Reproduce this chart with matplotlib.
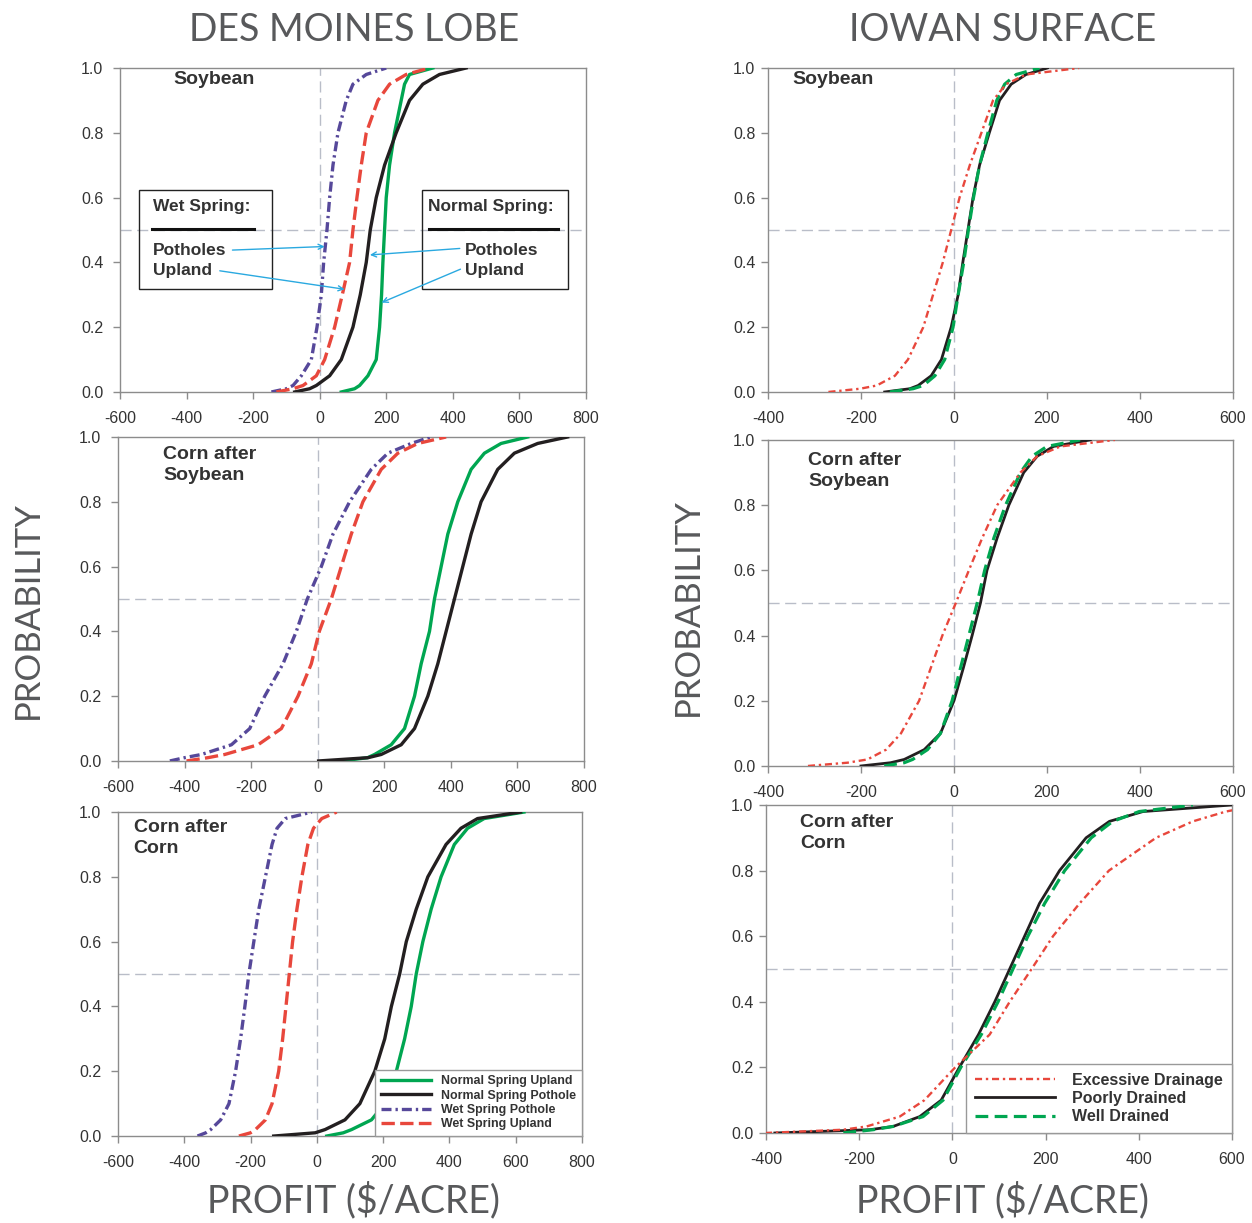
import numpy as np
import matplotlib.pyplot as plt
from matplotlib.patches import Rectangle

# cumulative probability levels shared by every curve
prob = [0, 0.01, 0.02, 0.05, 0.1, 0.2, 0.3, 0.4, 0.5, 0.6, 0.7, 0.8, 0.9, 0.95, 0.98, 1.0]

# Des Moines Lobe, profit ($/acre) at each probability level
dml_soy_normal_upland = [65, 105, 120, 145, 170, 180, 186, 190, 195, 200, 210, 225, 245, 255, 270, 340]
dml_soy_normal_pothole = [-75, -30, -10, 30, 65, 100, 122, 140, 152, 170, 195, 230, 270, 310, 360, 440]
dml_soy_wet_pothole = [-145, -100, -80, -55, -25, -8, 5, 12, 22, 30, 40, 55, 80, 100, 140, 200]
dml_soy_wet_upland = [-130, -80, -50, -10, 15, 45, 68, 90, 100, 112, 125, 140, 175, 210, 260, 330]

dml_cs_normal_upland = [71, 150, 171, 221, 261, 291, 311, 336, 351, 371, 391, 421, 461, 501, 551, 631]
dml_cs_normal_pothole = [3, 151, 191, 251, 291, 331, 361, 386, 411, 436, 461, 491, 541, 591, 661, 751]
dml_cs_wet_pothole = [-444, -400, -349, -259, -204, -159, -104, -64, -31, 11, 46, 96, 161, 211, 281, 340]
dml_cs_wet_upland = [-394, -330, -279, -179, -109, -59, -19, 5, 41, 71, 101, 136, 191, 241, 301, 386]

dml_cc_normal_upland = [30, 80, 105, 165, 205, 240, 265, 285, 300, 320, 345, 375, 415, 455, 505, 625]
dml_cc_normal_pothole = [-130, -5, 25, 85, 130, 175, 205, 225, 250, 270, 300, 335, 390, 435, 485, 615]
dml_cc_wet_pothole = [-360, -335, -320, -290, -265, -245, -230, -217, -205, -190, -175, -155, -135, -120, -95, -15]
dml_cc_wet_upland = [-235, -200, -185, -155, -135, -115, -103, -93, -83, -73, -60, -45, -27, -10, 15, 60]

# Iowan Surface
is_soy_excessive = [-270, -202, -166, -127, -99, -66, -45, -24, -6, 12, 34, 59, 84, 112, 155, 269]
is_soy_poor = [-149, -95, -77, -49, -27, -6, 9, 19, 30, 41, 55, 76, 98, 123, 155, 201]
is_soy_well = [-138, -88, -66, -41, -20, -2, 9, 21, 31, 42, 55, 73, 92, 109, 134, 184]

is_cs_excessive = [-314, -229, -186, -146, -114, -75, -50, -25, 4, 32, 61, 93, 143, 179, 229, 346]
is_cs_poor = [-200, -136, -107, -64, -29, 0, 20, 39, 57, 71, 93, 118, 150, 179, 214, 293]
is_cs_well = [-150, -107, -89, -57, -29, -4, 14, 32, 50, 66, 86, 111, 143, 168, 200, 271]

is_cc_excessive = [-402, -234, -184, -113, -60, 6, 80, 123, 170, 216, 273, 336, 437, 516, 587, 660]
is_cc_poor = [-381, -177, -127, -70, -24, 15, 56, 91, 123, 155, 187, 230, 287, 337, 409, 600]
is_cc_well = [-234, -170, -127, -63, -20, 18, 62, 98, 130, 162, 198, 241, 298, 344, 401, 516]

dml_labels = ["Normal Spring Upland", "Normal Spring Pothole", "Wet Spring Pothole", "Wet Spring Upland"]
is_labels = ["Excessive Drainage", "Poorly Drained", "Well Drained"]

GREEN = "#00a651"
BLACK = "#231f20"
PURPLE = "#56489a"
RED = "#e8473c"
REF = "#b9bdc8"
SPINE = "#8c8c8c"
TXT = "#333333"

plt.rcParams["font.family"] = ["Liberation Sans", "DejaVu Sans"]
plt.rcParams["axes.unicode_minus"] = False

fig = plt.figure(figsize=(12.52, 12.23), dpi=100)

# axes boxes (left, bottom, width, height) in figure fractions
left_boxes = [
    [0.0958, 0.6795, 0.3722, 0.2649],
    [0.0942, 0.3778, 0.3722, 0.2649],
    [0.0942, 0.0711, 0.3706, 0.2649],
]
right_boxes = [
    [0.6134, 0.6795, 0.3714, 0.2649],
    [0.6134, 0.3737, 0.3714, 0.2666],
    [0.6118, 0.0736, 0.3722, 0.2682],
]


def style_axes(ax, xmin, xmax, ypad):
    ax.set_xlim(xmin, xmax)
    ax.set_ylim(0, 1)
    ax.set_xticks(np.arange(xmin, xmax + 1, 200))
    ax.set_yticks(np.arange(0, 1.01, 0.2))
    ax.set_yticklabels(["%.1f" % v for v in np.arange(0, 1.01, 0.2)])
    for s in ax.spines.values():
        s.set_color(SPINE)
        s.set_linewidth(1.0)
    ax.tick_params(axis="both", colors=SPINE, labelcolor=TXT, labelsize=11.5, length=5, width=1)
    ax.tick_params(axis="x", pad=9)
    ax.tick_params(axis="y", pad=ypad)
    ax.axvline(0, color=REF, lw=1.0, ls=(0, (8, 4)), zorder=1)
    ax.axhline(0.5, color=REF, lw=1.0, ls=(0, (8, 4)), zorder=1)


# ---- Des Moines Lobe column ----
dml_sets = [
    (dml_soy_normal_upland, dml_soy_normal_pothole, dml_soy_wet_pothole, dml_soy_wet_upland),
    (dml_cs_normal_upland, dml_cs_normal_pothole, dml_cs_wet_pothole, dml_cs_wet_upland),
    (dml_cc_normal_upland, dml_cc_normal_pothole, dml_cc_wet_pothole, dml_cc_wet_upland),
]
dml_styles = [
    dict(color=GREEN, lw=2.4, ls="-"),
    dict(color=BLACK, lw=2.4, ls="-"),
    dict(color=PURPLE, lw=2.4, ls=(0, (3, 1.2, 0.7, 1.2))),
    dict(color=RED, lw=2.4, ls=(0, (4, 1.6))),
]
dml_ax = []
for box, curves in zip(left_boxes, dml_sets):
    ax = fig.add_axes(box)
    style_axes(ax, -600, 800, 7)
    for vals, st, lab in zip(curves, dml_styles, dml_labels):
        ax.plot(vals, prob, label=lab, zorder=3, **st)
    dml_ax.append(ax)

# ---- Iowan Surface column ----
is_sets = [
    (is_soy_excessive, is_soy_poor, is_soy_well),
    (is_cs_excessive, is_cs_poor, is_cs_well),
    (is_cc_excessive, is_cc_poor, is_cc_well),
]
is_styles = [
    dict(color=RED, lw=1.7, ls=(0, (3, 1.6, 1, 1.6)), zorder=5),
    dict(color=BLACK, lw=2.0, ls="-", zorder=3),
    dict(color=GREEN, lw=2.3, ls=(0, (4, 2)), zorder=4),
]
is_ax = []
for box, curves in zip(right_boxes, is_sets):
    ax = fig.add_axes(box)
    style_axes(ax, -400, 600, 4)
    for vals, st, lab in zip(curves, is_styles, is_labels):
        ax.plot(vals, prob, label=lab, **st)
    is_ax.append(ax)

# panel labels
lab_kw = dict(fontsize=14, fontweight="bold", color=TXT, va="top", ha="left", linespacing=1.3)
dml_ax[0].text(0.114, 0.99, "Soybean", transform=dml_ax[0].transAxes, **lab_kw)
dml_ax[1].text(0.097, 0.972, "Corn after\nSoybean", transform=dml_ax[1].transAxes, **lab_kw)
dml_ax[2].text(0.034, 0.978, "Corn after\nCorn", transform=dml_ax[2].transAxes, **lab_kw)
is_ax[0].text(0.052, 0.992, "Soybean", transform=is_ax[0].transAxes, **lab_kw)
is_ax[1].text(0.086, 0.962, "Corn after\nSoybean", transform=is_ax[1].transAxes, **lab_kw)
is_ax[2].text(0.073, 0.973, "Corn after\nCorn", transform=is_ax[2].transAxes, **lab_kw)

# annotation boxes on the Des Moines soybean panel
ax = dml_ax[0]
for x0, x1 in [(-542, -143), (306, 747)]:
    ax.add_patch(Rectangle((x0, 0.317), x1 - x0, 0.306, fill=False, ec="#222222", lw=1.0, zorder=4))
ax.plot([-503, -198], [0.502, 0.502], color="#111111", lw=2.2, zorder=4)
ax.plot([330, 716], [0.502, 0.502], color="#111111", lw=2.2, zorder=4)
box_kw = dict(fontsize=12.5, fontweight="bold", color=TXT, va="center", ha="left", zorder=5)
ax.text(-500, 0.572, "Wet Spring:", **box_kw)
ax.text(-500, 0.438, "Potholes", **box_kw)
ax.text(-500, 0.374, "Upland", **box_kw)
ax.text(325, 0.572, "Normal Spring:", **box_kw)
ax.text(436, 0.438, "Potholes", **box_kw)
ax.text(436, 0.374, "Upland", **box_kw)
arrow = dict(arrowstyle="->", color="#2aa9e0", lw=1.0, shrinkA=0, shrinkB=0, mutation_scale=9)
ax.annotate("", xy=(15, 0.449), xytext=(-262, 0.438), arrowprops=arrow, zorder=6)
ax.annotate("", xy=(75, 0.317), xytext=(-300, 0.374), arrowprops=arrow, zorder=6)
ax.annotate("", xy=(151, 0.423), xytext=(421, 0.443), arrowprops=arrow, zorder=6)
ax.annotate("", xy=(186, 0.276), xytext=(423, 0.379), arrowprops=arrow, zorder=6)

# legends
leg = dml_ax[2].legend(loc="lower right", borderaxespad=0, fancybox=False, framealpha=1,
                       edgecolor="#999999", handlelength=4.1, handletextpad=0.8,
                       labelspacing=0.2, borderpad=0.45,
                       prop=dict(size=8.9, weight="bold"))
for t in leg.get_texts():
    t.set_color(TXT)
leg = is_ax[2].legend(loc="lower right", borderaxespad=0, fancybox=False, framealpha=1,
                      edgecolor="#999999", handlelength=5.0, handletextpad=1.1,
                      labelspacing=0.2, borderpad=0.55,
                      prop=dict(size=11.5, weight="bold"))
for t in leg.get_texts():
    t.set_color(TXT)

# column titles and axis titles
big = dict(family=["Lato", "DejaVu Sans"], fontweight="normal", color="#58595b")
fig.text(0.2827, 0.9755, "DES MOINES LOBE", ha="center", va="center", fontsize=27, **big)
fig.text(0.801, 0.9755, "IOWAN SURFACE", ha="center", va="center", fontsize=27, **big)
fig.text(0.2827, 0.0188, "PROFIT ($/ACRE)", ha="center", va="center", fontsize=27, **big)
fig.text(0.801, 0.0188, "PROFIT ($/ACRE)", ha="center", va="center", fontsize=27, **big)
fig.text(0.0224, 0.5012, "PROBABILITY", ha="center", va="center", rotation=90, fontsize=25, **big)
fig.text(0.5495, 0.5037, "PROBABILITY", ha="center", va="center", rotation=90, fontsize=25, **big)

fig.savefig("out.png", dpi=100, facecolor="white")
